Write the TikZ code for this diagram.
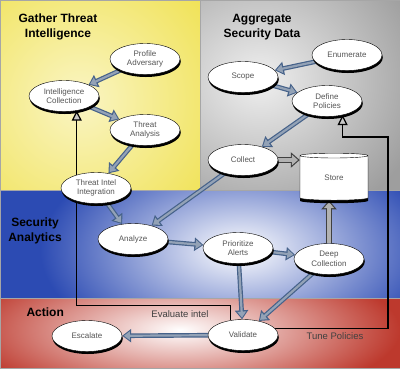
\documentclass[tikz,border=0pt]{standalone}
\usepackage{fontspec}
\setmainfont{Liberation Sans}
\usepackage{tikz}
\usetikzlibrary{arrows.meta, shapes.geometric, shadows}
\definecolor{gatherlite}{HTML}{FAF5C4}
\definecolor{gatherdeep}{HTML}{F0E255}
\definecolor{aggrdeep}{HTML}{9E9E9E}
\definecolor{analyblue}{HTML}{2C4BB3}
\definecolor{actionred}{HTML}{BD392D}
\definecolor{flowdark}{HTML}{46628A}
\definecolor{flowlite}{HTML}{93A2B6}
\definecolor{stagetext}{HTML}{555555}
\pgfdeclarelayer{panel}
\pgfdeclarelayer{link}
\pgfsetlayers{panel,link,main}
\tikzset{
  stage/.style={
    ellipse, draw=black, fill=white, thin,
    minimum width=70pt, minimum height=31pt, inner sep=0pt,
    font=\fontsize{8}{9.5}\selectfont, text=stagetext, align=center,
    drop shadow={shadow xshift=0.8pt, shadow yshift=-2.5pt, opacity=1, fill=black}
  },
  store/.style={
    cylinder, shape border rotate=90, aspect=0.25,
    draw=black, fill=white, thin,
    minimum width=68pt, minimum height=47pt, inner sep=0pt,
    font=\fontsize{8}{9.5}\selectfont, text=stagetext,
    drop shadow={shadow xshift=0pt, shadow yshift=-3pt, opacity=1, fill=black}
  },
  paneltitle/.style={font=\fontsize{12}{15}\selectfont\bfseries, align=center},
  loopnote/.style={font=\fontsize{9.5}{11}\selectfont, text=black!75},
  flow/.style={-{Triangle[length=9pt, width=13pt]}, draw=flowdark, line width=4.6pt,
    postaction={draw=flowlite, line width=2.2pt,
      -{Triangle[length=6pt, width=8.5pt]}, shorten >=1.7pt}},
  storeflow/.style={-{Triangle[length=9pt, width=15pt]}, draw=black!75, line width=6pt,
    postaction={draw=gray!60, line width=3.6pt,
      -{Triangle[length=6pt, width=10pt]}, shorten >=1.8pt}},
  feedback/.style={-{Triangle[length=10pt, width=10pt, fill=gray!45]},
    line width=1.2pt, draw=black}
}

\begin{document}
\begin{tikzpicture}[x=1pt, y=-1pt]
    \useasboundingbox (0,0) rectangle (400,368);

    \node[paneltitle] (GatherT) at (58,27) {Gather Threat\\Intelligence};
    \node[paneltitle] (AggrT) at (262,27) {Aggregate\\Security Data};
    \node[paneltitle] (AnalyT) at (35,231) {Security\\Analytics};
    \node[paneltitle, anchor=west] (ActionT) at (23,312) {Action};

    \node[stage] (ProfAdv) at (145,59) {Profile\\Adversary};
    \node[stage] (IntelCol) at (64,96) {Intelligence\\Collection};
    \node[stage] (ThrAna) at (145,130) {Threat\\Analysis};
    \node[stage] (ThrInt) at (96,188) {Threat Intel\\Integration};
    \node[stage] (Enum) at (347,55) {Enumerate};
    \node[stage] (Scope) at (243,77) {Scope};
    \node[stage] (DefPol) at (327,101) {Define\\Policies};
    \node[stage] (Collect) at (243,160) {Collect};
    \node[store] (Store) at (334,178) {Store};
    \node[stage] (Analyze) at (133,239) {Analyze};
    \node[stage] (Prior) at (238,248) {Prioritize\\Alerts};
    \node[stage] (DeepCol) at (329,259) {Deep\\Collection};
    \node[stage] (Validate) at (243,335) {Validate};
    \node[stage] (Escalate) at (87,336) {Escalate};

    \node[loopnote] (EvalLbl) at (180,314) {Evaluate intel};
    \node[loopnote] (TuneLbl) at (335,336) {Tune Policies};
    \coordinate (TuneKnee) at (388,137);

    \begin{pgfonlayer}{panel}
      \begin{scope}
        \clip (0,0) rectangle (200,190);
        \shade[inner color=gatherlite, outer color=gatherdeep] (-80,-60) rectangle (240,260);
      \end{scope}
      \begin{scope}
        \clip (200,0) rectangle (400,190);
        \shade[inner color=gray!12, outer color=aggrdeep] (90,-70) rectangle (430,230);
      \end{scope}
      \begin{scope}
        \clip (0,190) rectangle (400,298);
        \fill[analyblue] (0,190) rectangle (400,298);
        \shade[inner color=white, outer color=analyblue] (40,140) rectangle (440,360);
      \end{scope}
      \begin{scope}
        \clip (0,298) rectangle (400,368);
        \fill[actionred] (0,298) rectangle (400,368);
        \shade[inner color=white, outer color=actionred] (-40,258) rectangle (400,402);
      \end{scope}
      \draw[gray!70, line width=0.6pt] (0,0) rectangle (400,368)
        (200,0) -- (200,190) (0,190) -- (400,190) (0,298) -- (400,298);
    \end{pgfonlayer}

    \begin{pgfonlayer}{link}
      \draw[feedback] (Validate.131) -- ++(0,-15) -| (IntelCol.-49);
      \draw[feedback] (Validate.12) -| (TuneKnee) -| (DefPol.-42);

      \draw[flow] (ProfAdv) -- (IntelCol);
      \draw[flow] (IntelCol) -- (ThrAna);
      \draw[flow] (ThrAna) -- (ThrInt);
      \draw[flow] (Enum) -- (Scope);
      \draw[flow] (Scope) -- (DefPol);
      \draw[flow] (DefPol) -- (Collect);
      \draw[flow] (Collect) -- (Analyze);
      \draw[flow] (ThrInt) -- (Analyze);
      \draw[flow] (Analyze) -- (Prior);
      \draw[flow] (Prior) -- (DeepCol);
      \draw[flow] (Prior) -- (Validate);
      \draw[flow] (DeepCol) -- (Validate);
      \draw[flow] (Validate) -- (Escalate);

      \draw[storeflow] (Collect.east) -- (Collect.east -| Store.west);
      \draw[storeflow] (DeepCol.north) -- (DeepCol.north |- Store.south);
    \end{pgfonlayer}
  \end{tikzpicture}
\end{document}
